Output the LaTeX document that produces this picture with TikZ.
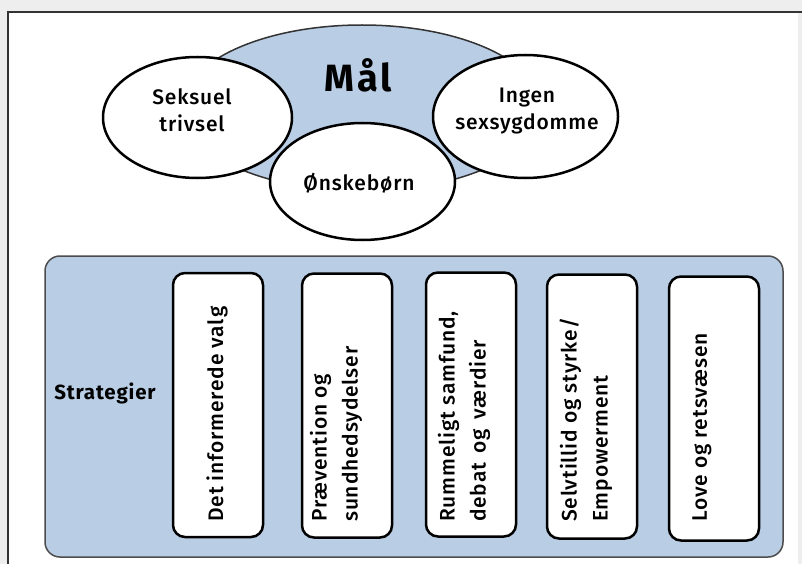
\documentclass[tikz,border=0pt]{standalone}
\usepackage{fontspec}
\setmainfont{Fira Sans}[UprightFont=* Medium, BoldFont=* Bold, LetterSpace=4]
\usetikzlibrary{shapes.geometric}
\definecolor{bluefill}{RGB}{185,205,228}
\definecolor{bggray}{RGB}{238,238,238}
\begin{document}
\begin{tikzpicture}[x=1pt,y=-1pt,
  goal/.style={ellipse, draw=black, line width=2.5pt, fill=white, inner sep=0pt},
  goaltxt/.style={align=center, inner sep=0pt, font=\fontsize{21}{27}\selectfont},
  panel/.style={rectangle, rounded corners=15pt, draw=black!70, line width=1.5pt, fill=bluefill, inner sep=0pt},
  stratbox/.style={rectangle, rounded corners=12pt, draw=black, line width=2.5pt, fill=white, minimum width=90pt, minimum height=264pt, inner sep=0pt},
  strattxt/.style={rotate=90, anchor=west, align=left, inner sep=0pt, font=\fontsize{21}{31}\selectfont}]
\useasboundingbox (0,0) rectangle (802,564);
\fill[bggray] (0,0) rectangle (802,564);
\fill[white] (8,12) rectangle (798,564);
\draw[line width=1.5pt, black!80] (8,564) -- (8,12) -- (802,12);
% goals
\node[ellipse, fill=bluefill, draw=black!80, line width=1.5pt, inner sep=0pt, minimum width=360pt, minimum height=166pt] (maal) at (362,108) {};
\node[inner sep=0pt, font=\addfontfeature{LetterSpace=8}\fontsize{38}{42}\bfseries] (maaltxt) at (358,75) {Mål};
\node[goal, minimum width=189pt, minimum height=121pt] (seks) at (197.5,117.5) {};
\node[goal, minimum width=185pt, minimum height=123pt] (ingen) at (525.5,116.5) {};
\node[goal, minimum width=185pt, minimum height=117pt] (oensk) at (362.5,181.5) {};
\node[goaltxt] (sekstxt) at (192,110) {Seksuel\\trivsel};
\node[goaltxt] (ingentxt) at (527,111) {Ingen\\sexsygdomme};
\node[goaltxt] (oensktxt) at (359,183) {Ønskebørn};
% strategies
\node[panel, minimum width=738pt, minimum height=301pt] (panel) at (414,406.5) {};
\node[inner sep=0pt, font=\fontsize{20.5}{24}\bfseries] (strat) at (105,393) {Strategier};
\node[stratbox] (b1) at (218,405) {};
\node[stratbox] (b2) at (347,405.5) {};
\node[stratbox] (b3) at (471,404.5) {};
\node[stratbox] (b4) at (592,406.5) {};
\node[stratbox] (b5) at (714,408.5) {};
\node[strattxt] (t1) at (217,522) {Det informerede valg};
\node[strattxt] (t2) at (336,522) {Prævention og\\sundhedsydelser};
\node[strattxt] (t3) at (464,522) {Rummeligt samfund,\\debat\, og\, værdier};
\node[strattxt] (t4) at (586,522) {Selvtillid og styrke/\\Empowerment};
\node[strattxt] (t5) at (702,522) {Love og retsvæsen};
\end{tikzpicture}
\end{document}
